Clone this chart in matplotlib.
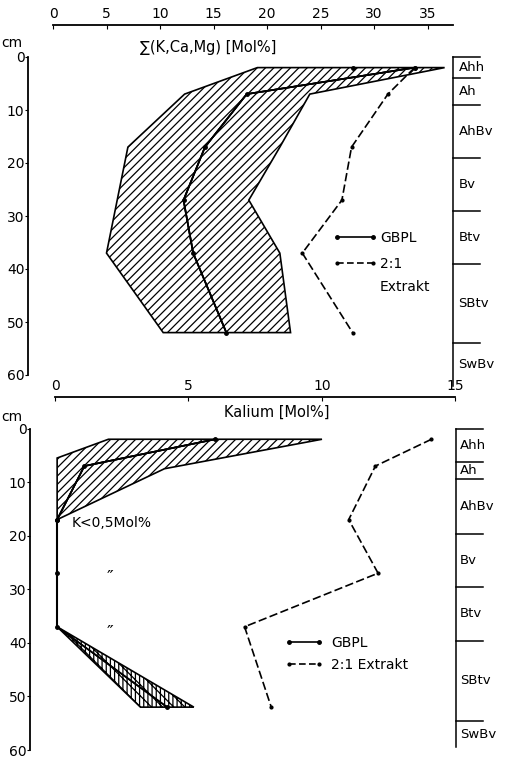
import numpy as np
import matplotlib
matplotlib.use('Agg')
import matplotlib.pyplot as plt
from matplotlib.lines import Line2D

plt.rcParams['font.family'] = ['DejaVu Sans']
plt.rcParams['hatch.linewidth'] = 0.9

# sample depths (cm)
depth = [2, 7, 17, 27, 37, 52]

# upper chart: sum (K,Ca,Mg) [Mol%]
sum_left_d = [2, 7, 17, 37, 52]
sum_left = [19.1, 12.3, 7.0, 5.0, 10.3]
sum_gbpl = [33.8, 18.1, 14.2, 12.2, 13.1, 16.2]
sum_right = [36.6, 24.0, 21.2, 18.3, 21.2, 22.2]
sum_extrakt = [33.8, 31.3, 27.9, 27.0, 23.3, 28.0]
sum_top_dot = 28.0

# lower chart: Kalium [Mol%]
k_left_d = [2, 5.5, 17]
k_left = [2.0, 0.08, 0.08]
k_mid_d = [2, 7, 17]
k_mid = [6.0, 1.1, 0.08]
k_right_d = [2, 7.5, 17]
k_right = [10.0, 4.1, 0.08]
k_low_d = [17, 27, 37]
k_low = [0.08, 0.08, 0.08]
k_bottom = [3.2, 4.2, 5.2]     # at 52 cm
k_extrakt = [14.1, 12.0, 11.0, 12.1, 7.1, 8.1]

horizons = ['Ahh', 'Ah', 'AhBv', 'Bv', 'Btv', 'SBtv', 'SwBv']
hz_top = [0, 4, 9, 19, 29, 39, 54, 62]
hz_bot = [0, 6.3, 9.5, 19.6, 29.5, 39.6, 54.6, 59.5]

W, H = 505, 758
fig = plt.figure(figsize=(W / 100, H / 100), dpi=100)


def add_axes(l, t, r, b):
    return fig.add_axes([l / W, 1 - b / H, (r - l) / W, (b - t) / H])


def style(ax, xmax, xticks):
    for s in ['right', 'bottom']:
        ax.spines[s].set_visible(False)
    for s in ['top', 'left']:
        ax.spines[s].set_linewidth(1.3)
    ax.spines['top'].set_bounds(0, xmax)
    ax.spines['left'].set_bounds(0, 60)
    ax.xaxis.tick_top()
    ax.set_xticks(xticks)
    ax.set_yticks(range(0, 61, 10))
    ax.tick_params(axis='x', direction='in', length=3, pad=3, labelsize=10)
    ax.tick_params(axis='y', direction='out', length=2, pad=0.5, labelsize=10)


def horizon_column(ax, bounds, x0, x1, xl):
    tr = ax.get_yaxis_transform()
    ax.plot([x0, x0], [bounds[0], bounds[-1]], color='k', lw=1.1,
            transform=tr, clip_on=False)
    for b in bounds[:-1]:
        ax.plot([x0, x1], [b, b], color='k', lw=1.1, transform=tr, clip_on=False)
    for name, a, b in zip(horizons, bounds[:-1], bounds[1:]):
        ax.text(xl, (a + b) / 2, name, transform=tr, fontsize=9.5,
                ha='left', va='center')


# ---------------- upper chart ----------------
ax1 = add_axes(28, 25, 500, 375)
ax1.set_xlim((28 - 53) / 10.7, (500 - 53) / 10.7)
ax1.set_ylim(60, (25 - 57) / 5.3)
style(ax1, 37.4, range(0, 36, 5))

ax1.fill(np.r_[sum_left, sum_gbpl[::-1]], np.r_[sum_left_d, depth[::-1]],
         facecolor='none', edgecolor='k', hatch='////', lw=1.2)
ax1.fill(np.r_[sum_gbpl, sum_right[::-1]], np.r_[depth, depth[::-1]],
         facecolor='none', edgecolor='k', hatch='////', lw=1.2)
ax1.plot(sum_gbpl, depth, color='k', lw=1.2, marker='o', ms=2.5)
ax1.plot([sum_top_dot], [depth[0]], 'ko', ms=2.5)
ax1.plot(sum_extrakt, depth, color='k', lw=1.2, ls=(0, (5, 2)), marker='o', ms=2)

ax1.text(0.381, 0.937, '∑(K,Ca,Mg) [Mol%]', transform=ax1.transAxes,
         fontsize=10.5, ha='center', va='center')
ax1.text(-0.034, 0.949, 'cm', transform=ax1.transAxes, fontsize=10,
         ha='center', va='center')

h1 = [Line2D([], [], color='k', lw=1.2, marker='o', ms=2.5),
      Line2D([], [], color='k', lw=1.2, ls=(0, (4, 2)), marker='o', ms=2)]
ax1.legend(h1, ['GBPL', '2:1'], loc='upper left', bbox_to_anchor=(0.646, 0.411),
           frameon=False, fontsize=10, handlelength=3.2, handletextpad=0.2,
           borderpad=0, borderaxespad=0, labelspacing=0.85, numpoints=2)
ax1.text(0.746, 0.251, 'Extrakt', transform=ax1.transAxes, fontsize=10,
         ha='left', va='center')

horizon_column(ax1, hz_top, 0.900, 0.958, 0.912)

# ---------------- lower chart ----------------
ax2 = add_axes(30, 397, 500, 750)
ax2.set_xlim((30 - 55) / 26.7, (500 - 55) / 26.7)
ax2.set_ylim(60, (397 - 428.5) / 5.35)
style(ax2, 15, range(0, 16, 5))

ax2.fill(np.r_[k_left, k_mid[::-1]], np.r_[k_left_d, k_mid_d[::-1]],
         facecolor='none', edgecolor='k', hatch='////', lw=1.2)
ax2.fill(np.r_[k_mid, k_right[::-1]], np.r_[k_mid_d, k_right_d[::-1]],
         facecolor='none', edgecolor='k', hatch='////', lw=1.2)
ax2.plot(k_mid, k_mid_d, color='k', lw=1.2, marker='o', ms=2.5)
ax2.plot(k_low, k_low_d, color='k', lw=1.5, marker='o', ms=2.5)

apex_x, apex_d = k_low[-1], k_low_d[-1]
ax2.fill([apex_x, k_bottom[0], k_bottom[1]], [apex_d, depth[-1], depth[-1]],
         facecolor='none', edgecolor='k', hatch='\\\\\\||||', lw=1.2)
ax2.fill([apex_x, k_bottom[1], k_bottom[2]], [apex_d, depth[-1], depth[-1]],
         facecolor='none', edgecolor='k', hatch='\\\\\\||||', lw=1.2)
ax2.plot([k_bottom[1]], [depth[-1]], 'ko', ms=2.5)

ax2.plot(k_extrakt, depth, color='k', lw=1.2, ls=(0, (5, 2)), marker='o', ms=2)

ax2.text(0.526, 0.958, 'Kalium [Mol%]', transform=ax2.transAxes,
         fontsize=10.5, ha='center', va='center')
ax2.text(-0.038, 0.943, 'cm', transform=ax2.transAxes, fontsize=10,
         ha='center', va='center')
ax2.text(0.64, 17.7, 'K<0,5Mol%', fontsize=10, ha='left', va='center')
ax2.text(2.06, 26.3, '″', fontsize=13, ha='center', va='top')
ax2.text(2.06, 36.5, '″', fontsize=13, ha='center', va='top')

h2 = [Line2D([], [], color='k', lw=1.2, marker='o', ms=2.5),
      Line2D([], [], color='k', lw=1.2, ls=(0, (4, 2)), marker='o', ms=2)]
ax2.legend(h2, ['GBPL', '2:1 Extrakt'], loc='upper left',
           bbox_to_anchor=(0.543, 0.323), frameon=False, fontsize=10,
           handlelength=2.7, handletextpad=0.6, borderpad=0, borderaxespad=0,
           labelspacing=0.6, numpoints=2)

horizon_column(ax2, hz_bot, 0.906, 0.964, 0.915)

fig.savefig('out.png', dpi=100)
